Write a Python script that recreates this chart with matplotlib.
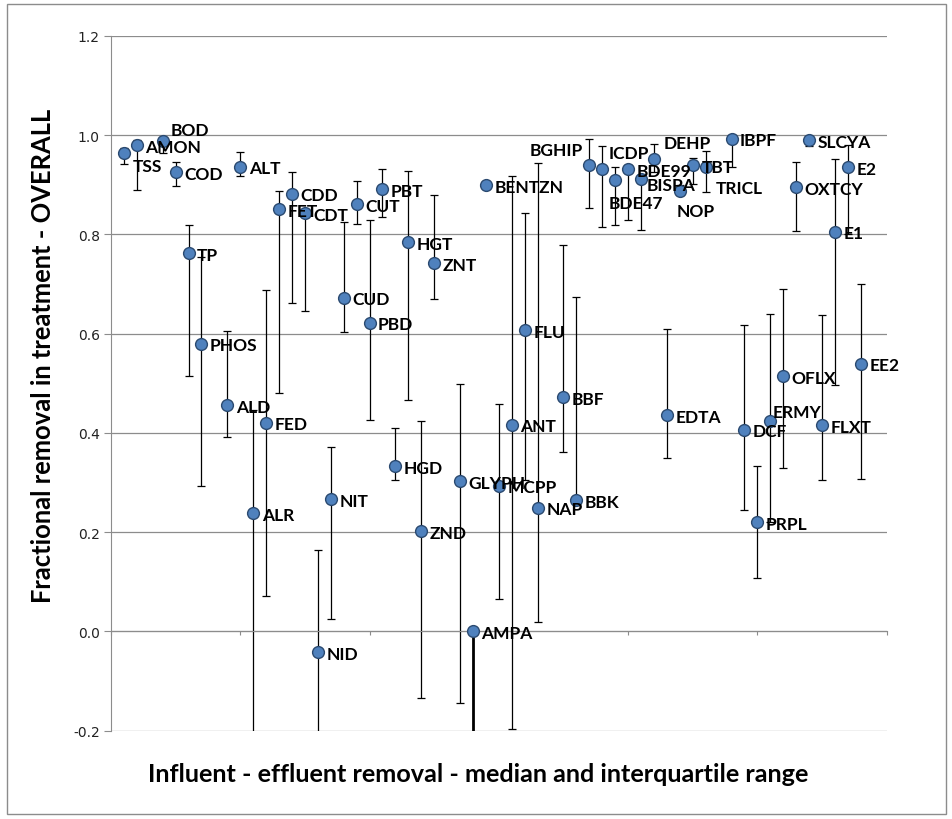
import numpy as np
import matplotlib.pyplot as plt
from matplotlib.patches import Rectangle

# substance codes, position on the category axis, median and interquartile range
names = ["TSS", "AMON", "BOD", "COD", "TP", "PHOS", "ALD", "ALT", "ALR", "FED",
         "FET", "CDD", "CDT", "NID", "NIT", "CUD", "CUT", "PBD", "PBT", "HGD",
         "HGT", "ZND", "ZNT", "GLYPH", "AMPA", "BENTZN", "MCPP", "ANT", "FLU", "NAP",
         "BBF", "BBK", "BGHIP", "ICDP", "BDE47", "BDE99", "BISPA", "DEHP", "EDTA", "NOP",
         "TBT", "TRICL", "IBPF", "DCF", "PRPL", "ERMY", "OFLX", "OXTCY", "SLCYA", "FLXT",
         "E1", "E2", "EE2"]
xpos = [1, 2, 4, 5, 6, 7, 9, 10, 11, 12,
        13, 14, 15, 16, 17, 18, 19, 20, 21, 22,
        23, 24, 25, 27, 28, 29, 30, 31, 32, 33,
        35, 36, 37, 38, 39, 40, 41, 42, 43, 44,
        45, 46, 48, 49, 50, 51, 52, 53, 54, 55,
        56, 57, 58]
median = [0.964, 0.980, 0.989, 0.925, 0.762, 0.580, 0.456, 0.937, 0.238, 0.421,
          0.851, 0.882, 0.843, -0.042, 0.266, 0.673, 0.861, 0.622, 0.891, 0.333,
          0.784, 0.202, 0.742, 0.303, 0.000, 0.899, 0.294, 0.417, 0.607, 0.249,
          0.472, 0.264, 0.940, 0.932, 0.909, 0.931, 0.911, 0.952, 0.436, 0.888,
          0.940, 0.937, 0.993, 0.406, 0.220, 0.424, 0.514, 0.895, 0.990, 0.416,
          0.806, 0.935, 0.540]
q_low = [0.942, 0.890, 0.964, 0.897, 0.514, 0.294, 0.391, 0.917, -0.50, 0.071,
         0.481, 0.661, 0.646, -0.50, 0.025, 0.604, 0.821, 0.427, 0.836, 0.306,
         0.466, -0.135, 0.669, -0.144, -0.50, 0.899, 0.065, -0.196, 0.305, 0.020,
         0.362, 0.260, 0.853, 0.816, 0.819, 0.829, 0.809, 0.925, 0.349, 0.880,
         0.901, 0.885, 0.937, 0.245, 0.107, 0.220, 0.330, 0.808, 0.979, 0.306,
         0.497, 0.800, 0.308]
q_high = [0.975, 0.990, 0.995, 0.947, 0.819, 0.755, 0.606, 0.966, 0.446, 0.688,
          0.888, 0.925, 0.850, 0.165, 0.372, 0.826, 0.907, 0.830, 0.931, 0.411,
          0.928, 0.425, 0.880, 0.498, 0.000, 0.899, 0.458, 0.917, 0.843, 0.945,
          0.779, 0.675, 0.993, 0.979, 0.935, 0.940, 0.920, 0.983, 0.610, 0.900,
          0.955, 0.968, 0.995, 0.618, 0.334, 0.640, 0.690, 0.947, 0.995, 0.638,
          0.952, 0.980, 0.700]

# label offsets in pixels (left edge of text, vertical centre); default is right of the marker
default_off = (8.5, -1.5)
label_off = {
    "BOD": (8, 11), "TSS": (9, -13), "BGHIP": (-60, 15), "ICDP": (6, 16),
    "BDE47": (-7, -23), "BISPA": (6, -6), "DEHP": (10, 16), "NOP": (-3, -20),
    "TRICL": (10, -21), "ERMY": (2, 9),
}

GRID = "#8c8c8c"
FILL = "#4F81BD"
EDGE = "#2B4A70"

plt.rcParams["font.family"] = ["Lato", "DejaVu Sans"]

fig = plt.figure(figsize=(9.52, 8.2), dpi=100)
ax = fig.add_axes([111 / 952, 1 - 731.7 / 820, (886.7 - 111) / 952, (731.7 - 37) / 820])

med = np.array(median)
lo = med - np.array(q_low)
hi = np.array(q_high) - med

for i, n in enumerate(names):
    lw = 2.0 if n == "AMPA" else 0.9
    ax.errorbar(xpos[i], median[i], yerr=[[lo[i]], [hi[i]]], fmt="none",
                ecolor="black", elinewidth=lw, capsize=3, capthick=0.9, zorder=2)

ax.plot(xpos, median, "o", ms=8.5, mfc=FILL, mec=EDGE, mew=1.0, zorder=3, clip_on=False)

for i, n in enumerate(names):
    dx, dy = label_off.get(n, default_off)
    ax.annotate(n, (xpos[i], median[i]), xytext=(dx, dy), textcoords="offset pixels",
                ha="left", va="center", fontsize=12.5, fontweight="bold",
                color="black", zorder=4, annotation_clip=False)

ax.set_xlim(0, 60)
ax.set_ylim(-0.2, 1.2)
ax.set_yticks(np.arange(-0.2, 1.21, 0.2))
ax.set_yticklabels([f"{v:.1f}" for v in np.arange(-0.2, 1.21, 0.2)],
                   family="DejaVu Sans", fontsize=10, color="#222222")
ax.set_xticks(np.arange(0, 61, 10))
ax.tick_params(axis="x", direction="out", length=3, color=GRID, labelbottom=False)
ax.tick_params(axis="y", direction="out", length=5, color=GRID, pad=3)
ax.grid(True, axis="y", color=GRID, lw=0.9, zorder=0)
ax.set_axisbelow(True)

ax.spines["top"].set_visible(False)
ax.spines["right"].set_visible(False)
ax.spines["left"].set_color(GRID)
ax.spines["bottom"].set_position(("data", 0))
ax.spines["bottom"].set_color(GRID)

fig.text(43 / 952, 1 - 356 / 820, "Fractional removal in treatment - OVERALL",
         rotation=90, ha="center", va="center", fontsize=18.4, fontweight="bold")
fig.text(478 / 952, 1 - 775 / 820, "Influent - effluent removal - median and interquartile range",
         ha="center", va="center", fontsize=18.2, fontweight="bold")

# chart area border
fig.patches.append(Rectangle((7 / 952, 5 / 820), 939 / 952, 810 / 820, transform=fig.transFigure,
                             fill=False, edgecolor=GRID, lw=1.0))

fig.savefig("out.png", dpi=100)
